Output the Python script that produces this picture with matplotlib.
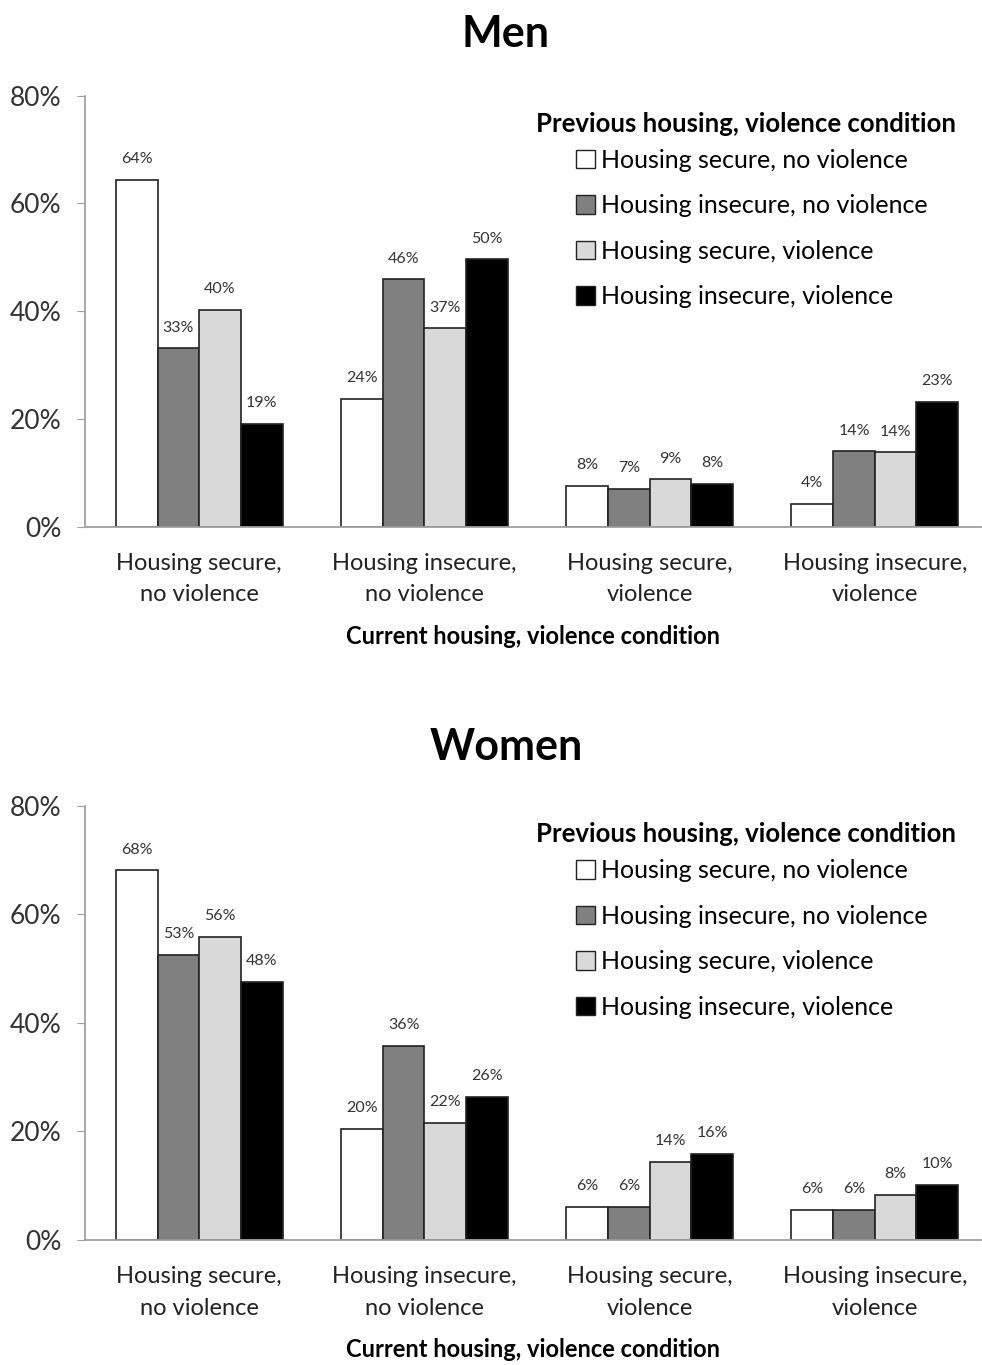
import numpy as np
import matplotlib.pyplot as plt

plt.rcParams['font.family'] = ['Lato', 'DejaVu Sans']

#Chart data
categories = ['Housing secure,\nno violence', 'Housing insecure,\nno violence',
              'Housing secure,\nviolence', 'Housing insecure,\nviolence']
series_names = ['Housing secure, no violence', 'Housing insecure, no violence',
                'Housing secure, violence', 'Housing insecure, violence']
colors = ['white', '#808080', '#d9d9d9', 'black']

# rows = previous condition (series), columns = current condition (category)
men = [[64.3, 23.8, 7.6, 4.3],
       [33.1, 45.9, 7.1, 14.0],
       [40.3, 36.8, 8.8, 13.8],
       [19.1, 49.6, 8.0, 23.1]]
women = [[68.1, 20.4, 6.1, 5.6],
         [52.6, 35.8, 6.1, 5.6],
         [55.9, 21.6, 14.3, 8.3],
         [47.6, 26.3, 15.9, 10.1]]

yticks = [0, 20, 40, 60, 80]

fig = plt.figure(figsize=(9.82, 13.65), dpi=100)

def draw_panel(ax, data, title, tpad):
    x = np.arange(len(categories))
    w = 0.185
    for i, vals in enumerate(data):
        bars = ax.bar(x + (i - 1.5) * w, vals, w, color=colors[i],
                      edgecolor='#222222', linewidth=1.2, label=series_names[i])
        ax.bar_label(bars, labels=[f'{v:.0f}%' for v in vals], padding=10,
                     fontsize=11.5, color='#333333')
    ax.set_xlim(-0.507, 3.47)
    ax.set_ylim(0, 80)
    ax.set_yticks(yticks)
    ax.set_yticklabels([f'{t}%' for t in yticks], fontsize=19, color='#333333')
    ax.set_xticks(x)
    ax.set_xticklabels(categories, fontsize=17, color='#222222', linespacing=1.6)
    ax.tick_params(axis='x', length=0, pad=19)
    ax.tick_params(axis='y', length=6, color='#a0a0a0', pad=11)
    for s in ['top', 'right']:
        ax.spines[s].set_visible(False)
    for s in ['left', 'bottom']:
        ax.spines[s].set_color('#a0a0a0')
        ax.spines[s].set_linewidth(1.3)
    ax.set_xlabel('Current housing, violence condition', fontsize=17,
                  fontweight='bold', labelpad=14)
    ax.set_title(title, fontsize=31, fontweight='bold', pad=tpad, x=0.47)
    ax.text(0.503, 0.935, 'Previous housing, violence condition', transform=ax.transAxes,
            fontsize=18.5, fontweight='bold', ha='left', va='center')
    leg = ax.legend(loc='upper left', bbox_to_anchor=(0.537, 0.9), frameon=False,
                    fontsize=18, handlelength=0.75, handleheight=0.75,
                    handletextpad=0.25, labelspacing=0.9, borderaxespad=0)
    for h in leg.legend_handles:
        h.set_linewidth(1.0)

ax1 = fig.add_axes([0.0866, 0.614, 0.912, 0.316])
draw_panel(ax1, men, 'Men', 35)
ax2 = fig.add_axes([0.0866, 0.0916, 0.912, 0.318])
draw_panel(ax2, women, 'Women', 33)

plt.savefig('out.png')
